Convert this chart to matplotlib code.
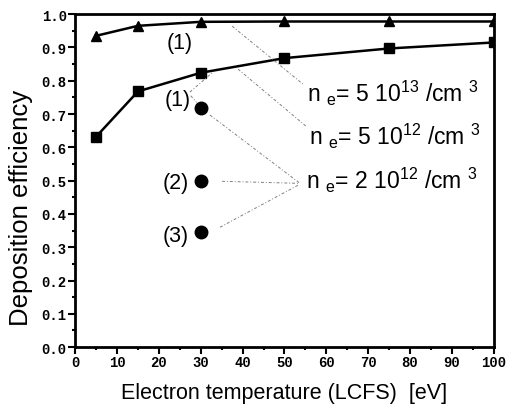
import matplotlib
matplotlib.use("Agg")
import matplotlib.pyplot as plt
from matplotlib.ticker import MultipleLocator

plt.rcParams["font.family"] = ["Liberation Sans", "DejaVu Sans"]
plt.rcParams["mathtext.fontset"] = "custom"
plt.rcParams["mathtext.rm"] = "Liberation Sans"
plt.rcParams["mathtext.it"] = "Liberation Sans"

# data
temp_hi = [5, 15, 30, 50, 75, 100]
eff_5e13 = [0.935, 0.965, 0.977, 0.978, 0.978, 0.978]
temp_mid = [5, 15, 30, 50, 75, 100]
eff_5e12 = [0.632, 0.768, 0.824, 0.868, 0.897, 0.915]
temp_low = [30, 30, 30]
eff_2e12 = [0.718, 0.500, 0.345]
case_labels = ["(1)", "(2)", "(3)"]
density_labels = [
    r"n $_{\mathrm{e}}$= 5 10$^{13}$ /cm $^{3}$",
    r"n $_{\mathrm{e}}$= 5 10$^{12}$ /cm $^{3}$",
    r"n $_{\mathrm{e}}$= 2 10$^{12}$ /cm $^{3}$",
]

xticks = list(range(0, 101, 10))
yticks = [i / 10 for i in range(11)]

fig = plt.figure(figsize=(5.08, 4.10), dpi=100)
ax = fig.add_axes([0.148, 0.151, 0.824, 0.812])

ax.plot(temp_hi, eff_5e13, color="black", lw=1.8, marker="^", ms=7)
ax.plot(temp_mid, eff_5e12, color="black", lw=1.8, marker="s", ms=7)
ax.plot(temp_low, eff_2e12, ls="none", color="black", marker="o", ms=9)

ax.set_xlim(0, 100)
ax.set_ylim(0, 1.0)
ax.set_xticks(xticks)
ax.set_yticks(yticks)
tick_font = dict(family="Liberation Mono", fontsize=10, fontweight="bold")
ax.set_xticklabels([str(v) for v in xticks], **tick_font)
ax.set_yticklabels([f"{v:.1f}" for v in yticks], **tick_font)
ax.xaxis.set_minor_locator(MultipleLocator(5))
ax.yaxis.set_minor_locator(MultipleLocator(0.05))
ax.tick_params(which="major", direction="out", length=5, width=1.5, pad=1)
ax.tick_params(which="minor", direction="out", length=2.5, width=1.5)
for s in ax.spines.values():
    s.set_linewidth(2.0)

ax.set_xlabel("Electron temperature (LCFS)  [eV]", fontsize=15.5, labelpad=9)
ax.set_ylabel("Deposition efficiency", fontsize=18.5)
ax.yaxis.set_label_coords(-0.10, 0.42)

# curve labels
lab = dict(fontsize=15.5, ha="center", va="center")
ax.text(25, 0.915, "(1)", **lab)
ax.text(24.5, 0.745, case_labels[0], **lab)
ax.text(24, 0.495, case_labels[1], **lab)
ax.text(24, 0.335, case_labels[2], **lab)

# density labels
dens = dict(fontsize=16.5, va="center")
ax.text(55.4, 0.766, density_labels[0], **dens)
ax.text(55.8, 0.637, density_labels[1], **dens)
ax.text(55.2, 0.505, density_labels[2], **dens)

# leader lines
lk = dict(color="gray", lw=0.7, ls=(0, (3, 2, 1, 2)))
ax.plot([37.5, 54.4], [0.964, 0.79], **lk)
ax.plot([38.9, 55.1], [0.835, 0.664], **lk)
ax.plot([27.4, 32.9], [0.766, 0.826], **lk)
ax.plot([27.6, 29.0], [0.755, 0.735], **lk)
ax.plot([32.2, 53.7], [0.697, 0.492], **lk)
ax.plot([35.1, 53.2], [0.498, 0.492], **lk)
ax.plot([34.6, 53.2], [0.36, 0.486], **lk)

fig.savefig("out.png", dpi=100)
